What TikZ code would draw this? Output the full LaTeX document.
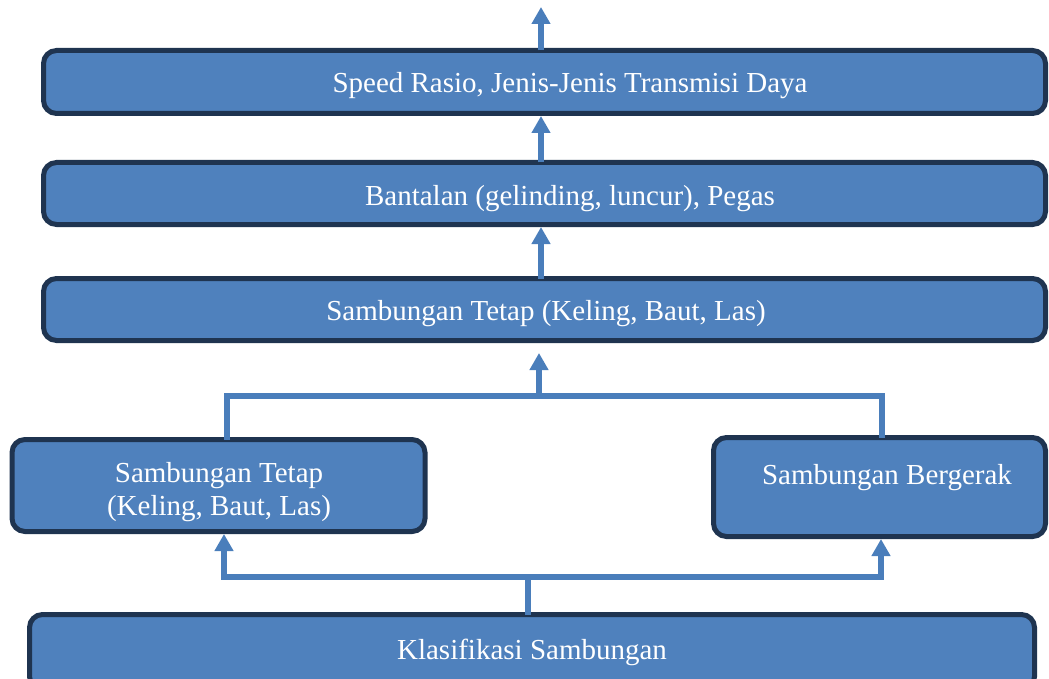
\documentclass[tikz,border=0pt]{standalone}
\usepackage{fontspec}
\setmainfont{Liberation Serif}
\usetikzlibrary{arrows.meta}
\definecolor{boxfill}{HTML}{4F81BD}
\definecolor{boxline}{HTML}{1F3450}
\definecolor{arrowc}{HTML}{4A7EBB}
\tikzset{
  box/.style={draw=boxline, fill=boxfill, line width=5pt, rounded corners=13pt,
    inner sep=0pt, outer sep=0pt},
  lbl/.style={text=white, font=\fontsize{29}{34}\selectfont, anchor=base, inner sep=0pt},
  conn/.style={draw=arrowc, line width=6pt},
  arr/.style={conn, -{Triangle[width=18pt,length=17pt]}},
}
\begin{document}
\begin{tikzpicture}[x=1pt,y=-1pt]
\useasboundingbox (0,0) rectangle (1049,679);
\clip (0,0) rectangle (1049,679);
% boxes (outer size minus line width)
\node[box, minimum width=1002pt, minimum height=63pt] (b1) at (544.5,82) {};
\node[box, minimum width=1002pt, minimum height=62pt] (b2) at (544.5,193.5) {};
\node[box, minimum width=1002pt, minimum height=62pt] (b3) at (544.5,309.5) {};
\node[box, minimum width=413pt, minimum height=92pt] (bl) at (218.5,485.5) {};
\node[box, minimum width=332pt, minimum height=99pt] (br) at (879.5,487) {};
\node[box, minimum width=1005pt, minimum height=75pt] (b0) at (532,652) {};
% labels
\node[lbl] (t1) at (570,93) {Speed Rasio, Jenis-Jenis Transmisi Daya};
\node[lbl] (t2) at (570,205) {Bantalan (gelinding, luncur), Pegas};
\node[lbl] (t3) at (546,320) {Sambungan Tetap (Keling, Baut, Las)};
\node[lbl] (tl1) at (219,482) {Sambungan Tetap};
\node[lbl] (tl2) at (219,515) {(Keling, Baut, Las)};
\node[lbl] (tr) at (887,484) {Sambungan Bergerak};
\node[lbl] (t0) at (532,659) {Klasifikasi Sambungan};
% helper coordinates
\coordinate (ax) at (541,0);
\coordinate (topend) at (541,7);
\coordinate (mx) at (539,0);
\coordinate (lx) at (227,0);
\coordinate (rx) at (882,0);
\coordinate (bar1) at (0,396);
\coordinate (tip3) at (539,353);
\coordinate (bx) at (528,0);
\coordinate (lx2) at (224,0);
\coordinate (rx2) at (881,0);
\coordinate (bar0) at (0,577);
% connectors upward
\draw[arr] (b1.north -| ax) -- (topend);
\draw[arr] (b2.north -| ax) -- ([yshift=-2.5pt]b1.south -| ax);
\draw[arr] (b3.north -| ax) -- ([yshift=-2.5pt]b2.south -| ax);
% top bracket
\draw[conn, line join=miter] (bl.north -| lx) -- (bar1 -| lx) -- (bar1 -| rx) -- (br.north -| rx);
\draw[arr] (bar1 -| mx) -- (tip3);
% bottom bracket
\draw[conn] (b0.north -| bx) -- (bar0 -| bx);
\draw[conn, line join=miter] ([yshift=3pt]bar0 -| lx2) -- (bar0 -| lx2) -- (bar0 -| rx2) -- ([yshift=3pt]bar0 -| rx2);
\draw[arr] (bar0 -| lx2) -- ([yshift=-2.5pt]bl.south -| lx2);
\draw[arr] (bar0 -| rx2) -- ([yshift=-2.5pt]br.south -| rx2);
\end{tikzpicture}
\end{document}
